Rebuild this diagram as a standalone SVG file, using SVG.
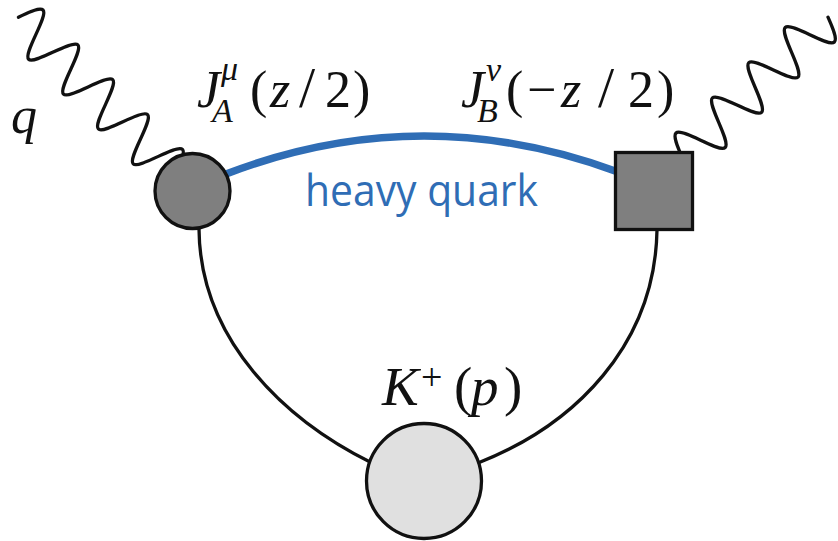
<svg xmlns="http://www.w3.org/2000/svg" width="838" height="541" viewBox="0 0 838 541">
<style>
.wire{fill:none;stroke:#111;stroke-width:3.3;stroke-linecap:round}
.quark{fill:none;stroke:#2f6db5;stroke-width:7.5;stroke-linecap:round}
.node{stroke:#111;stroke-width:3.3}
.dark{fill:#7f7f7f}
.light{fill:#e0e0e0}
.m{font-family:"Liberation Serif","DejaVu Serif",serif;fill:#111}
.i{font-style:italic}
.hq{font-family:"Open Sans","Liberation Sans",sans-serif;fill:#2f6db5;font-size:44px}
</style>
<rect width="838" height="541" fill="#fff"/>
<g id="connectors">
  <path id="quark-line" class="quark" d="M 226 174 Q 421 99 618 172"/>
  <path id="line-A-K" class="wire" d="M 199 229 C 200 340 285 420 372 463"/>
  <path id="line-B-K" class="wire" d="M 657 230 C 655 345 575 425 478 463"/>
  <g id="photon-A" transform="translate(18.4 17.2) rotate(45)">
    <path class="wire" d="M 0 0 c 4.1 -11.8 8.2 -22.5 12.3 -22.5 c 8.1 0 16.55 45 24.65 45 c 8.1 0 16.55 -45 24.65 -45 c 8.1 0 16.55 45 24.65 45 c 8.1 0 16.55 -45 24.65 -45 c 8.1 0 16.55 45 24.65 45 c 8.1 0 16.55 -45 24.65 -45 c 8.1 0 16.55 45 24.65 45 c 8.1 0 16.55 -45 24.65 -45 c 4.1 0 8.2 10.7 12.3 22.5"/>
  </g>
  <g id="photon-B" transform="translate(682.4 157.8) rotate(-44)">
    <path class="wire" d="M 0 0 c 4.2 -11.7 8.4 -22.3 12.65 -22.3 c 8.35 0 16.95 44.6 25.3 44.6 c 8.35 0 16.95 -44.6 25.3 -44.6 c 8.35 0 16.95 44.6 25.3 44.6 c 8.35 0 16.95 -44.6 25.3 -44.6 c 8.35 0 16.95 44.6 25.3 44.6 c 8.35 0 16.95 -44.6 25.3 -44.6 c 8.35 0 16.95 44.6 25.3 44.6 c 4.2 0 8.4 -10.6 12.65 -22.3"/>
  </g>
  <text class="m i" x="11" y="133" font-size="52">q</text>
  <text class="hq" x="305" y="206" textLength="233" lengthAdjust="spacingAndGlyphs">heavy quark</text>
</g>
<g id="node-A">
  <circle class="node dark" cx="192.5" cy="191" r="37.5"/>
  <text class="m" font-size="52">
    <tspan class="i" x="197" y="107">J</tspan>
    <tspan class="i" x="221" y="80" font-size="34">μ</tspan>
    <tspan class="i" x="212" y="122" font-size="34">A</tspan>
    <tspan x="250" y="107">(</tspan>
    <tspan class="i" x="270" y="107">z</tspan>
    <tspan x="299" y="107" font-size="58">/</tspan>
    <tspan x="325" y="107">2</tspan>
    <tspan x="353" y="107">)</tspan>
  </text>
</g>
<g id="node-B">
  <rect class="node dark" x="615.5" y="152.5" width="77" height="77"/>
  <text class="m" font-size="52">
    <tspan class="i" x="461" y="107">J</tspan>
    <tspan class="i" x="486" y="81" font-size="34">ν</tspan>
    <tspan class="i" x="477" y="122" font-size="34">B</tspan>
    <tspan x="506" y="107">(</tspan>
    <tspan x="527" y="107">−</tspan>
    <tspan class="i" x="561" y="107">z</tspan>
    <tspan x="598" y="107" font-size="58">/</tspan>
    <tspan x="628" y="107">2</tspan>
    <tspan x="657" y="107">)</tspan>
  </text>
</g>
<g id="node-K">
  <circle class="node light" cx="424" cy="481" r="57.5"/>
  <text class="m" font-size="55">
    <tspan class="i" x="382" y="405">K</tspan>
    <tspan x="421" y="390" font-size="38">+</tspan>
    <tspan x="454" y="405">(</tspan>
    <tspan class="i" x="471" y="405">p</tspan>
    <tspan x="504" y="405">)</tspan>
  </text>
</g>
</svg>
